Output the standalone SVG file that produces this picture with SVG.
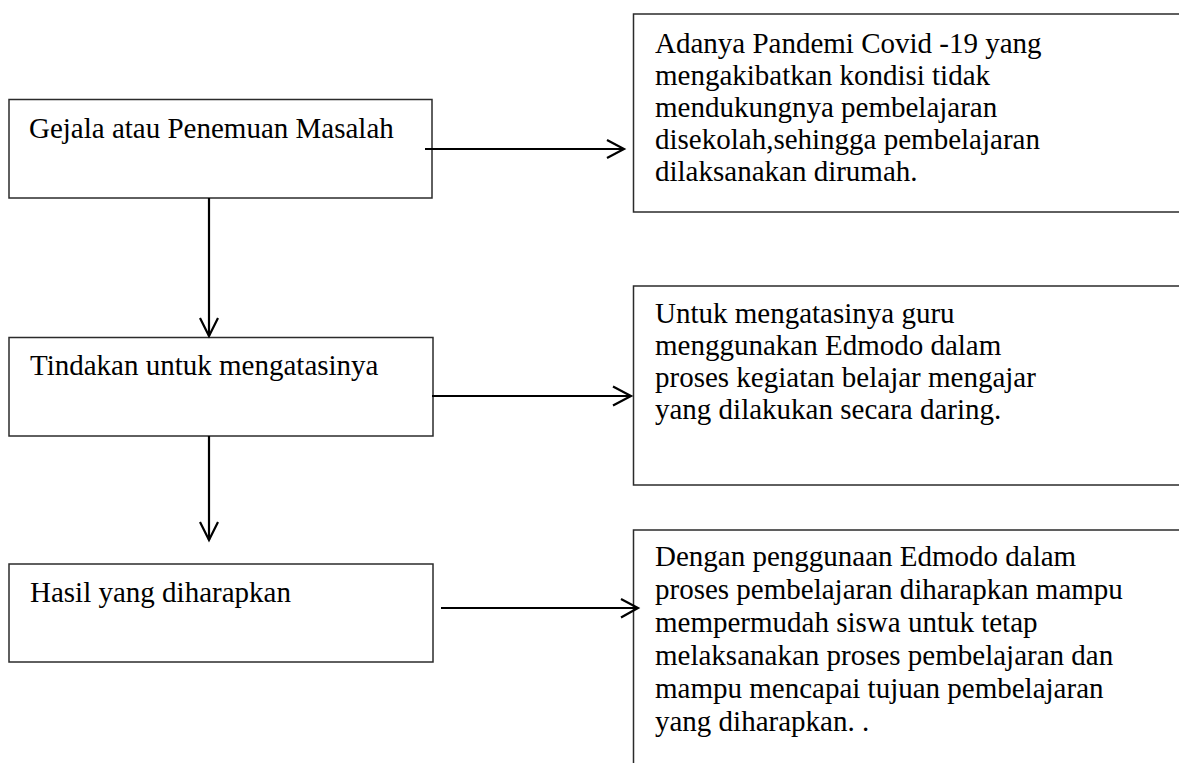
<svg xmlns="http://www.w3.org/2000/svg" width="1179" height="763" viewBox="0 0 1179 763">
  <style>
    .box { fill: #ffffff; stroke: #2b2b2b; stroke-width: 1.5; }
    .lbl { font-family: "Liberation Serif", "Times New Roman", serif; font-size: 29px; fill: #000000; }
    .conn { fill: none; stroke: #000000; stroke-width: 2.2; }
    .head { fill: none; stroke: #000000; stroke-width: 2.2; stroke-linejoin: miter; }
  </style>
  <rect width="1179" height="763" fill="#ffffff"/>

  <g id="node-gejala">
    <rect class="box" x="9" y="99.5" width="423" height="98.5"/>
    <text class="lbl" x="29" y="138">Gejala atau Penemuan Masalah</text>
  </g>
  <g id="node-tindakan">
    <rect class="box" x="9" y="337.5" width="424" height="98.5"/>
    <text class="lbl" x="30" y="375">Tindakan untuk mengatasinya</text>
  </g>
  <g id="node-hasil">
    <rect class="box" x="9" y="564" width="424" height="98"/>
    <text class="lbl" x="30" y="602">Hasil yang diharapkan</text>
  </g>

  <g id="node-pandemi">
    <rect class="box" x="633.5" y="14" width="600" height="198"/>
    <text class="lbl" x="655" y="53">Adanya Pandemi Covid -19 yang</text>
    <text class="lbl" x="655" y="85">mengakibatkan kondisi tidak</text>
    <text class="lbl" x="655" y="117">mendukungnya pembelajaran</text>
    <text class="lbl" x="655" y="149">disekolah,sehingga pembelajaran</text>
    <text class="lbl" x="655" y="181">dilaksanakan dirumah.</text>
  </g>
  <g id="node-edmodo">
    <rect class="box" x="633.5" y="286" width="600" height="199"/>
    <text class="lbl" x="655" y="323">Untuk mengatasinya guru</text>
    <text class="lbl" x="655" y="355">menggunakan Edmodo dalam</text>
    <text class="lbl" x="655" y="387">proses kegiatan belajar mengajar</text>
    <text class="lbl" x="655" y="419">yang dilakukan secara daring.</text>
  </g>
  <g id="node-harapan">
    <rect class="box" x="633.5" y="530" width="600" height="300"/>
    <text class="lbl" x="655" y="566">Dengan penggunaan Edmodo dalam</text>
    <text class="lbl" x="655" y="599">proses pembelajaran diharapkan mampu</text>
    <text class="lbl" x="655" y="632">mempermudah siswa untuk tetap</text>
    <text class="lbl" x="655" y="665">melaksanakan proses pembelajaran dan</text>
    <text class="lbl" x="655" y="698">mampu mencapai tujuan pembelajaran</text>
    <text class="lbl" x="655" y="731">yang diharapkan. .</text>
  </g>

  <g id="connectors">
    <line class="conn" x1="425" y1="149" x2="624" y2="149"/>
    <polyline class="head" points="607,140 624,149 607,158"/>

    <line class="conn" x1="432" y1="396" x2="631" y2="396"/>
    <polyline class="head" points="613,386.5 631,396 613,405.5"/>

    <line class="conn" x1="441" y1="608" x2="638" y2="608"/>
    <polyline class="head" points="621,599 638,608 621,617.5"/>

    <line class="conn" x1="209" y1="198" x2="209" y2="336"/>
    <polyline class="head" points="200,318 209,336 218,318"/>

    <line class="conn" x1="209" y1="436" x2="209" y2="540"/>
    <polyline class="head" points="200,522 209,540 218,522"/>
  </g>
</svg>
